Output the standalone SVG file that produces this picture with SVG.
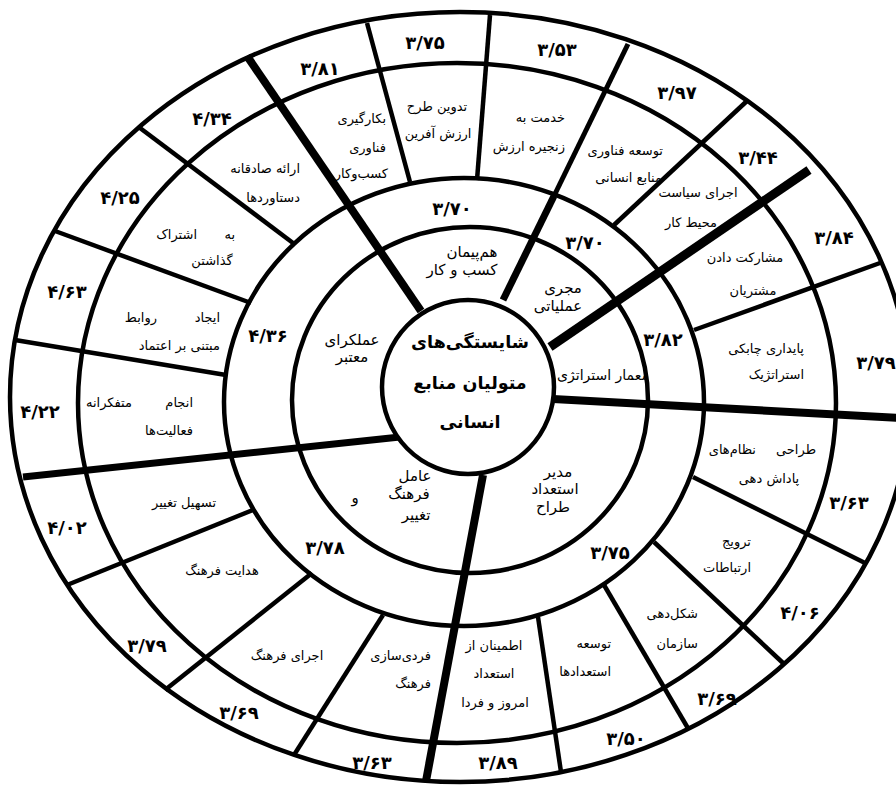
<svg xmlns="http://www.w3.org/2000/svg" width="896" height="790" viewBox="0 0 896 790">
<style>
text{font-family:"DejaVu Sans",sans-serif;fill:#000}
.v{font-size:18px;font-weight:bold;text-anchor:middle}
.a{font-size:15px;text-anchor:middle}
.l{font-size:13px;text-anchor:middle}
.r{font-size:13px;text-anchor:end}
.c{font-size:17.5px;font-weight:bold;text-anchor:middle}
.ring{fill:none;stroke:#000;stroke-width:4.5}
.thin{stroke:#000;stroke-width:4.5;fill:none}
.thick{stroke:#000;stroke-width:8;fill:none}
</style>
<rect x="0" y="0" width="896" height="790" fill="#fff"/>

<g id="sector-partner">
<text class="a" x="472" y="257">هم‌پیمان</text>
<text class="a" x="462" y="275">کسب و کار</text>
<text class="v" x="452" y="215">۳/۷۰</text>
<text class="r" x="386" y="123">بکارگیری</text>
<text class="r" x="386" y="152">فناوری</text>
<text class="r" x="388" y="178">کسب‌وکار</text>
<text class="l" x="437" y="111">تدوین  طرح</text>
<text class="l" x="438" y="138">ارزش آفرین</text>
<text class="r" x="565" y="122">خدمت به</text>
<text class="r" x="565" y="151">زنجیره ارزش</text>
<text class="v" x="320" y="75">۳/۸۱</text>
<text class="v" x="425" y="49">۳/۷۵</text>
<text class="v" x="557" y="56">۳/۵۳</text>
</g>

<g id="sector-operations">
<text class="a" x="563" y="293">مجری</text>
<text class="a" x="558" y="311">عملیاتی</text>
<text class="v" x="585" y="249">۳/۷۰</text>
<text class="r" x="663" y="155">توسعه فناوری</text>
<text class="r" x="662" y="182">منابع انسانی</text>
<text class="l" x="698" y="197">اجرای سیاست</text>
<text class="l" x="691" y="227">محیط کار</text>
<text class="v" x="677" y="99">۳/۹۷</text>
<text class="v" x="758" y="164">۳/۴۴</text>
</g>

<g id="sector-architect">
<text class="a" x="603" y="380" style="font-size:14px">معمار استراتژی</text>
<text class="v" x="663" y="346">۳/۸۲</text>
<text class="l" x="745" y="262">مشارکت دادن</text>
<text class="l" x="753" y="295">مشتریان</text>
<text class="r" x="804" y="353">پایداری چابکی</text>
<text class="r" x="804" y="379">استراتژیک</text>
<text class="v" x="876" y="369">۳/۷۹</text>
<text class="v" x="834" y="244">۳/۸۴</text>
</g>

<g id="sector-talent">
<text class="a" x="558" y="477">مدیر</text>
<text class="a" x="555" y="494">استعداد</text>
<text class="a" x="553" y="512">طراح</text>
<text class="v" x="610" y="559">۳/۷۵</text>
<text class="r" x="816" y="454">طراحی</text>
<text class="r" x="756" y="454">نظام‌های</text>
<text class="l" x="769" y="483">پاداش دهی</text>
<text class="r" x="751" y="546">ترویج</text>
<text class="r" x="751" y="572">ارتباطات</text>
<text class="r" x="698" y="618">شکل‌دهی</text>
<text class="r" x="698" y="648">سازمان</text>
<text class="r" x="611" y="648">توسعه</text>
<text class="r" x="611" y="676">استعدادها</text>
<text class="l" x="494" y="650">اطمینان از</text>
<text class="l" x="494" y="678">استعداد</text>
<text class="l" x="495" y="707">امروز و فردا</text>
<text class="v" x="849" y="509">۳/۶۳</text>
<text class="v" x="800" y="619">۴/۰۶</text>
<text class="v" x="717" y="705">۳/۶۹</text>
<text class="v" x="626" y="745">۳/۵۰</text>
<text class="v" x="498" y="769">۳/۸۹</text>
</g>

<g id="sector-culture">
<text class="a" x="415" y="481">عامل</text>
<text class="a" x="409" y="499">فرهنگ</text>
<text class="a" x="416" y="520">تغییر</text>
<text class="a" x="355" y="503">و</text>
<text class="v" x="325" y="554">۳/۷۸</text>
<text class="r" x="431" y="660">فردی‌سازی</text>
<text class="r" x="431" y="688">فرهنگ</text>
<text class="l" x="287" y="660">اجرای فرهنگ</text>
<text class="l" x="222" y="575">هدایت فرهنگ</text>
<text class="l" x="184" y="507">تسهیل تغییر</text>
<text class="v" x="372" y="769">۳/۶۳</text>
<text class="v" x="239" y="719">۳/۶۹</text>
<text class="v" x="147" y="652">۳/۷۹</text>
<text class="v" x="67" y="534">۴/۰۲</text>
</g>

<g id="sector-credible">
<text class="a" x="352" y="345">عملکرای</text>
<text class="a" x="352" y="362">معتبر</text>
<text class="v" x="268" y="342">۴/۳۶</text>
<text class="r" x="193" y="407">انجام</text>
<text class="r" x="132" y="407">متفکرانه</text>
<text class="r" x="193" y="435">فعالیت‌ها</text>
<text class="r" x="220" y="322">ایجاد</text>
<text class="r" x="157" y="322">روابط</text>
<text class="r" x="220" y="350">مبتنی بر اعتماد</text>
<text class="r" x="235" y="239">به</text>
<text class="r" x="197" y="239">اشتراک</text>
<text class="l" x="212" y="265">گذاشتن</text>
<text class="r" x="300" y="173">ارائه صادقانه</text>
<text class="r" x="300" y="202">دستاوردها</text>
<text class="v" x="40" y="418">۴/۲۲</text>
<text class="v" x="67" y="298">۴/۶۳</text>
<text class="v" x="120" y="204">۴/۲۵</text>
<text class="v" x="212" y="125">۴/۳۴</text>
</g>

<g id="connectors">
<line class="thick" x1="421" y1="311" x2="247" y2="56"/>
<line class="thick" x1="503" y1="300" x2="554" y2="196" style="stroke-width:7"/>
<line class="thin" x1="554" y1="196" x2="628" y2="44" style="stroke-width:5"/>
<line class="thick" x1="550" y1="347" x2="809" y2="170" style="stroke-width:9"/>
<line class="thick" x1="553" y1="399" x2="900" y2="418"/>
<line class="thick" x1="483" y1="475" x2="426" y2="781"/>
<line class="thick" x1="400" y1="437" x2="23" y2="477" style="stroke-width:7"/>
<line class="thin" x1="367" y1="23" x2="410" y2="182"/>
<line class="thin" x1="490" y1="15" x2="477" y2="180"/>
<line class="thin" x1="748" y1="100" x2="614" y2="225"/>
<line class="thin" x1="880" y1="263" x2="694" y2="330"/>
<line class="thin" x1="693" y1="477" x2="865" y2="563"/>
<line class="thin" x1="654" y1="542" x2="783" y2="663"/>
<line class="thin" x1="604" y1="585" x2="689" y2="730"/>
<line class="thin" x1="538" y1="617" x2="561" y2="772"/>
<line class="thin" x1="383" y1="615" x2="294" y2="755"/>
<line class="thin" x1="312" y1="573" x2="165" y2="690"/>
<line class="thin" x1="253" y1="510" x2="67" y2="585"/>
<line class="thin" x1="15" y1="340" x2="226" y2="375"/>
<line class="thin" x1="55" y1="231" x2="251" y2="303"/>
<line class="thin" x1="140" y1="128" x2="293" y2="243"/>
</g>

<g id="rings">
<ellipse class="ring" cx="460" cy="397" rx="450" ry="385"/>
<ellipse class="ring" cx="457" cy="403" rx="379" ry="340"/>
<ellipse class="ring" cx="464" cy="402" rx="240" ry="224"/>
<ellipse class="ring" cx="470" cy="400" rx="178" ry="173"/>
<ellipse cx="468" cy="387" rx="86" ry="87" fill="#fff" stroke="#000" stroke-width="4.5"/>
</g>

<g id="center">
<text class="c" x="470" y="348">شایستگی‌های</text>
<text class="c" x="470" y="389">متولیان منابع</text>
<text class="c" x="470" y="428">انسانی</text>
</g>
</svg>
